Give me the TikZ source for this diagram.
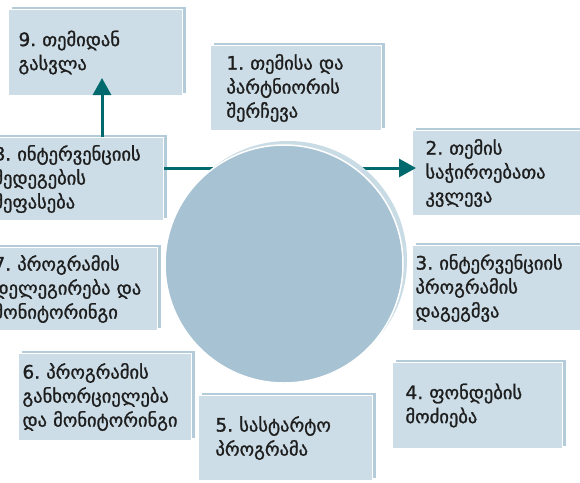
\documentclass[tikz,border=0pt]{standalone}
\usepackage{fontspec}
\setmainfont[FakeBold=1.2]{DejaVu Sans}
\usetikzlibrary{arrows.meta, shadows}
\definecolor{boxblue}{HTML}{CCDDE7}
\definecolor{shadeblue}{HTML}{B4CBD9}
\definecolor{discblue}{HTML}{A7C3D3}
\definecolor{discshade}{HTML}{C9DCE6}
\definecolor{linkteal}{HTML}{00696E}
\definecolor{inkgray}{HTML}{1E1E1E}

\tikzset{
  stage/.style={rectangle, anchor=north west, fill=boxblue, draw=white,
    line width=1pt, align=left, inner ysep=0pt, text=inkgray,
    font=\fontsize{18.5pt}{24pt}\selectfont,
    copy shadow={shadow xshift=3pt, shadow yshift=3pt, fill=shadeblue, draw=none}},
  link/.style={draw=linkteal, line width=3pt, -{Triangle[length=17pt,width=18pt]}}
}

\begin{document}
\begin{tikzpicture}[x=1pt, y=1pt]
    \useasboundingbox (0,0) rectangle (580,-482);
    \fill[white] (0,0) rectangle (580,-482);
    \clip (0,0) rectangle (580,-482);
    % the nine stages
    \node[stage, minimum height=86pt, inner xsep=10pt, text width=154pt] (b9) at (8,-9)
        {9.~თემიდან\\გასვლა};
    \node[stage, minimum height=85pt, inner xsep=16pt, text width=139pt] (b1) at (210,-45)
        {1.~თემისა~და\\პარტნიორის\\შერჩევა};
    \node[stage, minimum height=85pt, inner xsep=13pt, text width=164pt] (b2) at (412,-130)
        {2.~თემის\\საჭიროებათა\\კვლევა};
    \node[stage, minimum height=85pt, inner xsep=3pt, text width=184pt] (b3) at (412,-245)
        {3.~ინტერვენციის\\პროგრამის\\დაგეგმვა};
    \node[stage, minimum height=86pt, inner xsep=13pt, text width=144pt] (b4) at (392,-362)
        {4.~ფონდების\\მოძიება};
    \node[stage, minimum height=85pt, inner xsep=17pt, text width=140pt] (b5) at (198,-395)
        {5.~სასტარტო\\პროგრამა};
    \node[stage, minimum height=87pt, inner xsep=4pt, text width=165pt] (b6) at (18,-353)
        {6.~პროგრამის\\განხორციელება\\და~მონიტორინგი};
    \node[stage, minimum height=83pt, inner xsep=11pt, text width=153pt] (b7) at (-18,-247)
        {7.~პროგრამის\\დელეგირება~და\\მონიტორინგი};
    \node[stage, minimum height=83pt, inner xsep=5pt, text width=165pt] (b8) at (-12,-137)
        {8.~ინტერვენციის\\შედეგების\\შეფასება};
    % connectors
    \coordinate (mid) at (0,-168);
    \coordinate (rise) at (102,0);
    \draw[link, shorten >=-4pt] (b8.east |- mid) -- (b2.west |- mid);
    \draw[link, shorten >=-18pt] (b8.north -| rise) -- (b9.south -| rise);
    % central disc
    \node[circle, minimum size=238pt, fill=discblue, draw=white, line width=1.5pt,
          copy shadow={shadow xshift=4pt, shadow yshift=4pt, fill=discshade, draw=none}]
          (disc) at (284,-264) {};
\end{tikzpicture}
\end{document}
